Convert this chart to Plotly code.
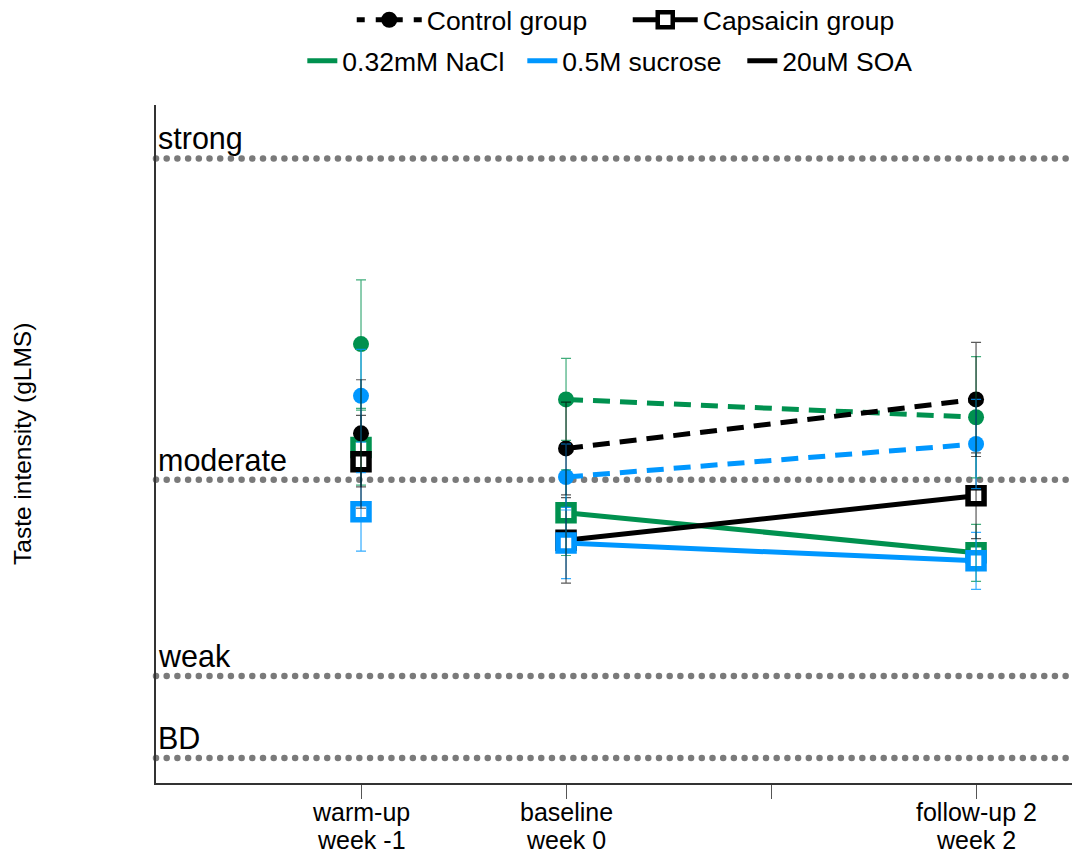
import numpy as np
import plotly.graph_objects as go

# Session positions (weeks) and x-axis labels (two lines each)
weeks = [-1, 0, 2]
tick_vals = [-1, 0, 1, 2]
tick_line1 = ["warm-up", "baseline", "", "follow-up 2"]
tick_line2 = ["week -1", "week 0", "", "week 2"]

# Taste stimuli and their colours
tastes = ["0.32mM NaCl", "0.5M sucrose", "20uM SOA"]
taste_colors = ["#00914F", "#0097FF", "#000000"]
err_colors = ["rgba(0,145,79,0.75)", "rgba(0,151,255,0.8)", "rgba(0,0,0,0.65)"]

# Mean taste intensity (gLMS) and SEM per session: control group
control_nacl = [24.6, 21.5, 20.5]
control_nacl_err = [3.6, 2.3, 3.4]
control_sucrose = [21.7, 17.15, 19.0]
control_sucrose_err = [2.6, 1.85, 2.5]
control_soa = [19.6, 18.75, 21.5]
control_soa_err = [3.0, 2.6, 3.2]

# Mean taste intensity (gLMS) and SEM per session: capsaicin group
capsaicin_nacl = [18.8, 15.15, 12.9]
capsaicin_nacl_err = [2.1, 2.4, 1.6]
capsaicin_sucrose = [15.2, 13.45, 12.45]
capsaicin_sucrose_err = [2.2, 2.0, 1.6]
capsaicin_soa = [18.0, 13.6, 16.1]
capsaicin_soa_err = [2.6, 2.4, 2.4]

# gLMS verbal anchors
anchor_labels = ["strong", "moderate", "weak", "BD"]
anchor_values = [35, 17, 6, 1.4]

x_range = [-2, 2.468]
y_range = [0, 38]
FONT = "Liberation Sans, Arial, sans-serif"

control = [(control_nacl, control_nacl_err), (control_sucrose, control_sucrose_err),
           (control_soa, control_soa_err)]
capsaicin = [(capsaicin_nacl, capsaicin_nacl_err), (capsaicin_sucrose, capsaicin_sucrose_err),
             (capsaicin_soa, capsaicin_soa_err)]


def with_gap(vals):
    # warm-up stands alone; baseline and follow-up are joined
    return [vals[0], None, vals[1], vals[2]]


fig = go.Figure()

# dotted gLMS reference lines
dot_x = np.arange(x_range[0], x_range[1], 0.0522)
for v in anchor_values:
    fig.add_trace(go.Scatter(
        x=dot_x, y=[v] * len(dot_x), mode="markers",
        marker=dict(symbol="circle", size=6.5, color="#7a7a7a"),
        showlegend=False, hoverinfo="skip", cliponaxis=False))

xg = with_gap(weeks)

# capsaicin group: solid lines, open squares (draw order green, black, blue)
for i in [0, 2, 1]:
    vals, _ = capsaicin[i]
    fig.add_trace(go.Scatter(
        x=xg, y=with_gap(vals), mode="lines+markers",
        line=dict(color=taste_colors[i], width=5),
        marker=dict(symbol="square", size=16, color="white",
                    line=dict(color=taste_colors[i], width=5.5)),
        showlegend=False, connectgaps=False))

# control group: dashed lines, filled circles
for i in [0, 1, 2]:
    vals, _ = control[i]
    fig.add_trace(go.Scatter(
        x=xg, y=with_gap(vals), mode="lines+markers",
        line=dict(color=taste_colors[i], width=5, dash="17px,10px"),
        marker=dict(symbol="circle", size=16, color=taste_colors[i]),
        showlegend=False, connectgaps=False))

# error bars on top of the markers
for group in (capsaicin, control):
    for i, (vals, errs) in enumerate(group):
        fig.add_trace(go.Scatter(
            x=weeks, y=vals, mode="markers",
            marker=dict(size=1, opacity=0),
            error_y=dict(type="data", array=errs, visible=True,
                         color=err_colors[i], thickness=1.2, width=5),
            showlegend=False, hoverinfo="skip"))

# legend row 1: groups
fig.add_trace(go.Scatter(
    x=[None], y=[None], mode="lines+markers", name="Control group",
    line=dict(color="black", width=5, dash="8px,11px"),
    marker=dict(symbol="circle", size=16, color="black"), legend="legend"))
fig.add_trace(go.Scatter(
    x=[None], y=[None], mode="lines+markers", name="Capsaicin group",
    line=dict(color="black", width=5),
    marker=dict(symbol="square", size=15, color="white", line=dict(color="black", width=4.5)),
    legend="legend"))

# legend row 2: taste stimuli
for name, col in zip(tastes, taste_colors):
    fig.add_trace(go.Scatter(
        x=[None], y=[None], mode="lines", name=name,
        line=dict(color=col, width=5), legend="legend2"))

annotations = []
for lab, v in zip(anchor_labels, anchor_values):
    annotations.append(dict(
        x=0, xref="paper", xanchor="left", xshift=0,
        y=v, yref="y", yanchor="middle", yshift=20,
        text=lab, showarrow=False,
        font=dict(family=FONT, size=30.5, color="black")))

# two-line session labels under the ticks
for tv, l1, l2 in zip(tick_vals, tick_line1, tick_line2):
    for txt, shift in ((l1, -29), (l2, -57)):
        if txt:
            annotations.append(dict(
                x=tv, xref="x", xanchor="center",
                y=0, yref="paper", yanchor="middle", yshift=shift,
                text=txt, showarrow=False,
                font=dict(family=FONT, size=25, color="black")))

annotations.append(dict(
    x=-134 / 916, xref="paper", xanchor="center",
    y=0.5, yref="paper", yanchor="middle",
    text="Taste intensity (gLMS)", textangle=-90, showarrow=False,
    font=dict(family=FONT, size=24.5, color="black")))

fig.update_layout(
    width=1072, height=854,
    margin=dict(l=156, r=0, t=105, b=71, autoexpand=False),
    paper_bgcolor="white", plot_bgcolor="white",
    font=dict(family=FONT, size=24, color="black"),
    xaxis=dict(range=x_range, tickmode="array", tickvals=tick_vals,
               showticklabels=False, automargin=False,
               showgrid=False, zeroline=False, showline=True, linecolor="#333333",
               linewidth=1.5, ticks="outside", ticklen=14, tickcolor="#555555",
               tickwidth=1),
    yaxis=dict(range=y_range, showgrid=False, zeroline=False, showline=True,
               automargin=False,
               linecolor="#333333", linewidth=1.5, showticklabels=False, ticks=""),
    legend=dict(orientation="h", x=0.515, xanchor="center", y=1 - 20 / 854,
                yref="container", yanchor="middle", itemwidth=65,
                entrywidth=196, entrywidthmode="pixels",
                font=dict(family=FONT, size=26.5), bgcolor="rgba(0,0,0,0)"),
    legend2=dict(orientation="h", x=0.52, xanchor="center", y=1 - 61 / 854,
                 yref="container", yanchor="middle", itemwidth=30,
                 entrywidth=175, entrywidthmode="pixels",
                 font=dict(family=FONT, size=26.5), bgcolor="rgba(0,0,0,0)"),
    annotations=annotations,
    showlegend=True,
)

fig.write_html("out.html")
